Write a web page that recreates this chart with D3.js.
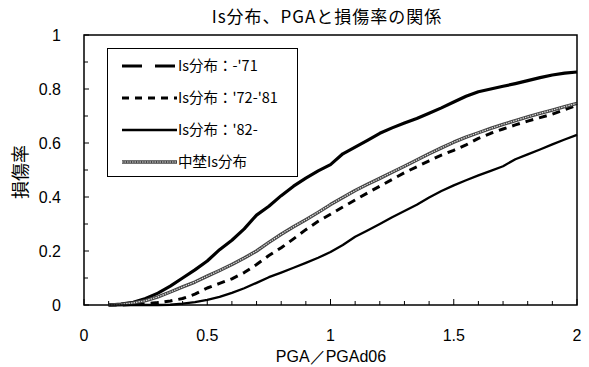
<!DOCTYPE html>
<html>
<head>
<meta charset="utf-8">
<script src="https://cdn.jsdelivr.net/npm/d3@7"></script>
<style>
  body { margin: 0; background: #fff; }
  text { fill: #000; }
  .tick-label { font-family: "Liberation Sans", Arial, sans-serif; font-size: 16px; }
  .jp { font-family: "Noto Sans CJK JP", sans-serif; }
</style>
</head>
<body>
<div id="chart"></div>
<script>
// PGA/PGAd06
const pga = [0.10, 0.15, 0.20, 0.25, 0.30, 0.35, 0.40, 0.45, 0.50, 0.55,
             0.60, 0.65, 0.70, 0.75, 0.80, 0.85, 0.90, 0.95, 1.00, 1.05,
             1.10, 1.15, 1.20, 1.25, 1.30, 1.35, 1.40, 1.45, 1.50, 1.55,
             1.60, 1.65, 1.70, 1.75, 1.80, 1.85, 1.90, 1.95, 2.00];

// damage ratio, per series
const is71 = [0.000, 0.003, 0.010, 0.024, 0.044, 0.070, 0.100, 0.130, 0.163, 0.205,
              0.240, 0.282, 0.333, 0.366, 0.405, 0.440, 0.470, 0.497, 0.520, 0.560,
              0.585, 0.610, 0.636, 0.656, 0.674, 0.691, 0.710, 0.730, 0.752, 0.773,
              0.790, 0.800, 0.810, 0.820, 0.831, 0.842, 0.852, 0.859, 0.863];
const is72 = [0.000, 0.000, 0.002, 0.005, 0.009, 0.015, 0.024, 0.040, 0.063, 0.080,
              0.097, 0.120, 0.150, 0.183, 0.212, 0.245, 0.279, 0.310, 0.336, 0.363,
              0.389, 0.415, 0.440, 0.465, 0.490, 0.512, 0.534, 0.555, 0.573, 0.593,
              0.617, 0.636, 0.652, 0.667, 0.681, 0.694, 0.707, 0.723, 0.740];
const is82 = [0.000, 0.000, 0.000, 0.000, 0.000, 0.001, 0.005, 0.011, 0.019, 0.030,
              0.045, 0.062, 0.082, 0.103, 0.120, 0.138, 0.156, 0.175, 0.196, 0.222,
              0.253, 0.276, 0.300, 0.325, 0.348, 0.371, 0.398, 0.422, 0.443, 0.462,
              0.480, 0.497, 0.514, 0.540, 0.558, 0.576, 0.595, 0.613, 0.630];
const nakano = [0.000, 0.002, 0.008, 0.016, 0.030, 0.048, 0.067, 0.085, 0.107, 0.128,
                0.150, 0.174, 0.200, 0.232, 0.262, 0.290, 0.316, 0.343, 0.372, 0.398,
                0.424, 0.447, 0.469, 0.492, 0.514, 0.537, 0.560, 0.582, 0.603, 0.622,
                0.638, 0.654, 0.669, 0.683, 0.697, 0.710, 0.722, 0.735, 0.747];

const seriesNames = ["Is分布：-'71", "Is分布：'72-'81", "Is分布：'82-", "中埜Is分布"];
const xTickLabels = [0, 0.5, 1, 1.5, 2];
const yTickLabels = [0, 0.2, 0.4, 0.6, 0.8, 1];

const width = 589, height = 367;
const margin = { top: 35, right: 12, bottom: 62, left: 84 };
const plotW = width - margin.left - margin.right;
const plotH = height - margin.top - margin.bottom;

const svg = d3.select("#chart").append("svg")
    .attr("width", width)
    .attr("height", height);

const x = d3.scaleLinear().domain([0, 2]).range([margin.left, margin.left + plotW]);
const y = d3.scaleLinear().domain([0, 1]).range([margin.top + plotH, margin.top]);

// styles for each series (line drawing)
const styles = [
    { stroke: "#000", width: 3.2, dash: null, legendDash: "20,13" },
    { stroke: "#000", width: 3, dash: "8,6", legendDash: "7,6" },
    { stroke: "#000", width: 2.3, dash: null, legendDash: null },
    { stroke: "#444", width: 3.4, dash: null, legendDash: null, textured: true }
];
const data = [is71, is72, is82, nakano];

// title
svg.append("text")
    .attr("class", "jp")
    .attr("x", 327).attr("y", 23)
    .attr("text-anchor", "middle")
    .style("font-size", "17px")
    .style("letter-spacing", "1px")
    .text("Is分布、PGAと損傷率の関係");

// ticks, pointing inward
const xMinor = d3.range(0, 21).map(d => d / 10);
svg.append("g").selectAll("line")
    .data(xMinor)
    .join("line")
    .attr("x1", d => x(d)).attr("x2", d => x(d))
    .attr("y1", y(0))
    .attr("y2", (d, i) => y(0) - (i % 5 == 0 ? 6 : 4))
    .style("stroke", "#000").style("stroke-width", 1);

const yMinor = d3.range(0, 11).map(d => d / 10);
svg.append("g").selectAll("line")
    .data(yMinor)
    .join("line")
    .attr("x1", x(0))
    .attr("x2", (d, i) => x(0) + (i % 2 == 0 ? 5 : 4))
    .attr("y1", d => y(d)).attr("y2", d => y(d))
    .style("stroke", "#000").style("stroke-width", 1);

// tick labels
svg.append("g").selectAll("text")
    .data(xTickLabels)
    .join("text")
    .attr("class", "tick-label")
    .attr("x", d => x(d))
    .attr("y", y(0) + 36)
    .attr("text-anchor", "middle")
    .text(d => d);

svg.append("g").selectAll("text")
    .data(yTickLabels)
    .join("text")
    .attr("class", "tick-label")
    .attr("x", 61)
    .attr("y", d => y(d) + 6)
    .attr("text-anchor", "end")
    .text(d => d);

// axis titles
svg.append("text")
    .attr("class", "tick-label")
    .attr("x", 331).attr("y", 362)
    .attr("text-anchor", "middle")
    .text("PGA／PGAd06");

svg.append("text")
    .attr("class", "jp")
    .attr("transform", "translate(27,172) rotate(-90)")
    .attr("text-anchor", "middle")
    .style("font-size", "18px")
    .text("損傷率");

// lines
const line = d3.line()
    .x((d, i) => x(pga[i]))
    .y(d => y(d));

const lines = svg.append("g");
data.forEach((vals, k) => {
    let s = styles[k];
    lines.append("path")
        .attr("d", line(vals))
        .style("fill", "none")
        .style("stroke", s.stroke)
        .style("stroke-width", s.width)
        .style("stroke-dasharray", s.dash)
        .style("stroke-linejoin", "round");
    if (s.textured) {
        lines.append("path")
            .attr("d", line(vals))
            .style("fill", "none")
            .style("stroke", "#ddd")
            .style("stroke-width", 1.2)
            .style("stroke-dasharray", "1.5,1");
    }
});

// plot border
svg.append("rect")
    .attr("x", x(0)).attr("y", y(1))
    .attr("width", x(2) - x(0)).attr("height", y(0) - y(1))
    .style("fill", "none")
    .style("stroke", "#000")
    .style("stroke-width", 1.5);

// legend
const legend = svg.append("g");
legend.append("rect")
    .attr("x", 107.5).attr("y", 48.5)
    .attr("width", 190).attr("height", 128)
    .style("fill", "#fff")
    .style("stroke", "#000")
    .style("stroke-width", 1);

seriesNames.forEach((name, k) => {
    let s = styles[k];
    let ly = 66 + k * 32;
    legend.append("line")
        .attr("x1", 122).attr("x2", 177)
        .attr("y1", ly).attr("y2", ly)
        .style("stroke", s.stroke)
        .style("stroke-width", s.width)
        .style("stroke-dasharray", s.legendDash);
    if (s.textured) {
        legend.append("line")
            .attr("x1", 122).attr("x2", 177)
            .attr("y1", ly).attr("y2", ly)
            .style("stroke", "#ddd")
            .style("stroke-width", 1.2)
            .style("stroke-dasharray", "1.5,1");
    }
    legend.append("text")
        .attr("class", "jp")
        .attr("x", 178).attr("y", ly + 5)
        .style("font-size", "14.5px")
        .text(name);
});
</script>
</body>
</html>
